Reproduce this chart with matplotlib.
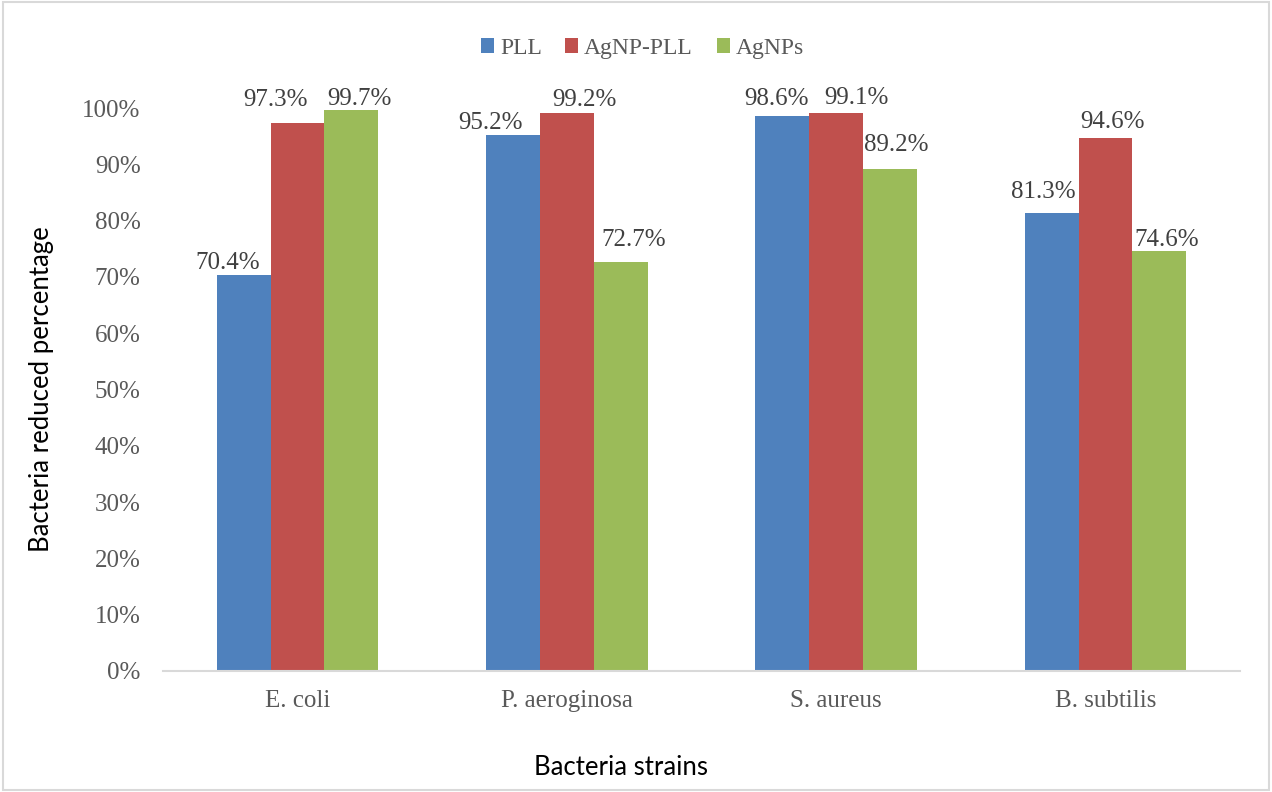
import numpy as np
import matplotlib.pyplot as plt
from matplotlib.patches import Rectangle

# Antibacterial efficiency per strain
strains = ["E. coli", "P. aeroginosa", "S. aureus", "B. subtilis"]
series = ["PLL", "AgNP-PLL", "AgNPs"]
pll = [70.4, 95.2, 98.6, 81.3]
agnp_pll = [97.3, 99.2, 99.1, 94.6]
agnps = [99.7, 72.7, 89.2, 74.6]
colors = ["#4F81BD", "#C0504D", "#9BBB59"]

# nudges (pixels) that keep neighbouring value labels apart
label_dx = [[-16, -22, -6, -8], [-22, 18, 20, 7], [8, 13, 6, 7]]
label_dy = [[6, 6, 11, 15], [17, 7, 9, 10], [5, 16, 18, 5]]

plt.rcParams["font.family"] = "Liberation Serif"

fig = plt.figure(figsize=(12.72, 7.92), dpi=100)
ax = fig.add_axes([0.128, 0.1528, 0.847, 0.7108])

x = np.arange(len(strains))
width = 0.2
for i, (name, vals) in enumerate(zip(series, [pll, agnp_pll, agnps])):
    vals = np.array(vals) / 100
    bars = ax.bar(x + (i - 1) * width, vals, width, color=colors[i],
                  label=name, edgecolor="none")
    for j, (b, v) in enumerate(zip(bars, vals)):
        ax.annotate(f"{v*100:.1f}%", (b.get_x() + b.get_width() / 2, v),
                    xytext=(label_dx[i][j], label_dy[i][j]),
                    textcoords="offset pixels", ha="center", va="baseline",
                    fontsize=18, color="#404040", annotation_clip=False)

ax.set_xlim(-0.5, 3.5)
ax.set_ylim(0, 1.0)
ax.set_yticks(np.arange(0, 1.01, 0.1))
ax.set_yticklabels([f"{t}%" for t in range(0, 101, 10)])
ax.set_xticks(x)
ax.set_xticklabels(strains)
ax.tick_params(length=0, labelsize=18, colors="#595959")
ax.tick_params(axis="y", pad=16)
ax.tick_params(axis="x", pad=14)

for s in ["top", "right", "left"]:
    ax.spines[s].set_visible(False)
ax.spines["bottom"].set_color("#D9D9D9")
ax.spines["bottom"].set_linewidth(1.5)

ax.set_ylabel("Bacteria reduced percentage", fontsize=18.5, color="black",
              family="Lato")
ax.yaxis.set_label_coords(-0.101, 0.5)
fig.text(0.488, 0.031, "Bacteria strains", fontsize=18.5, ha="center",
         va="center", color="black", family="Lato")

leg = fig.legend(loc="center", bbox_to_anchor=(0.505, 0.939), ncol=3,
                 frameon=False, fontsize=17, handlelength=0.55,
                 handleheight=0.55, handletextpad=0.25, columnspacing=1.0)
for t in leg.get_texts():
    t.set_color("#595959")

fig.patches.append(Rectangle((0.002, 0.002), 0.996, 0.996,
                             transform=fig.transFigure, fill=False,
                             edgecolor="#D9D9D9", linewidth=1.5))

fig.savefig("out.png", dpi=100)
